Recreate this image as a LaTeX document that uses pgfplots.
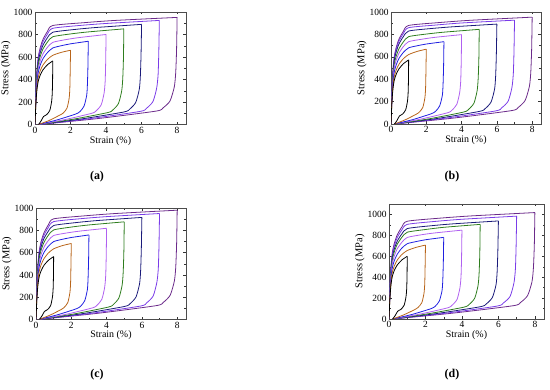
\documentclass[border=0pt]{standalone}
\usepackage{fontspec}
\setmainfont{Liberation Serif}
\usepackage{pgfplots}
\pgfplotsset{compat=1.18}
\definecolor{c1}{HTML}{000000}
\definecolor{c2}{HTML}{B8651B}
\definecolor{c3}{HTML}{2020E0}
\definecolor{c4}{HTML}{B060F0}
\definecolor{c5}{HTML}{2E7D1E}
\definecolor{c6}{HTML}{1A1A7A}
\definecolor{c7}{HTML}{7A3CE8}
\definecolor{c8}{HTML}{6B2A8A}
\pgfplotsset{
  panel/.style={
    scale only axis,
    xmin=0, xmax=8.5, ymin=0,
    xtick={0,2,4,6,8}, minor x tick num=1,
    minor y tick num=1,
    tick align=inside,
    major tick length=2.5bp, minor tick length=1.5bp,
    tick style={black!80, line width=0.4pt},
    axis line style={black!70, line width=0.5pt},
    xlabel={Strain (\%)}, ylabel={Stress (MPa)},
    label style={font=\fontsize{10}{12}\selectfont},
    ylabel style={font=\fontsize{10.5}{12}\selectfont},
    tick label style={font=\fontsize{9.5}{11}\selectfont},
    /pgf/number format/assume math mode=true,
    /pgf/number format/1000 sep={},
    xlabel style={yshift=4bp},
    ylabel style={yshift=-4bp},
    every axis plot/.append style={line width=0.8pt, smooth, tension=0.4, mark=none},
    xticklabel style={yshift=1bp},
    yticklabel style={xshift=1bp},
  }
}
\begin{document}
\begin{tikzpicture}
\path[use as bounding box] (0bp,0bp) rectangle (550bp,390bp);
% ---------------- (a)
\begin{axis}[panel, at={(35bp,265.5bp)}, anchor=south west, width=151bp, height=112.5bp, ymax=1000, ytick={0,200,...,1000}]
\addplot[c8] coordinates {(0,0)(0.05,290)(0.1,458)(0.15,554)(0.2,616)(0.3,686)(0.45,757)(0.7,827)(1,880)(2.75,905)(4.5,925)(8,952)};
\addplot[c8] coordinates {(8,952)(7.97,666)(7.92,457)(7.84,333)(7.6,209)(7.21,148)(6.81,119)(3.5,52)(0.2,0)};
\addplot[c7] coordinates {(0,0)(0.05,282)(0.1,445)(0.15,539)(0.2,599)(0.3,667)(0.45,735)(0.7,804)(1,855)(2.5,880)(4,898)(7,925)};
\addplot[c7] coordinates {(7,925)(6.97,648)(6.93,444)(6.85,324)(6.64,204)(6.27,143)(5.91,116)(3.05,51)(0.2,0)};
\addplot[c6] coordinates {(0,0)(0.05,271)(0.1,426)(0.15,517)(0.2,574)(0.3,640)(0.45,705)(0.7,771)(1,820)(2.25,845)(3.5,863)(6,890)};
\addplot[c6] coordinates {(6,890)(5.97,623)(5.93,427)(5.87,312)(5.67,196)(5.34,138)(5,111)(2.6,49)(0.2,0)};
\addplot[c5] coordinates {(0,0)(0.05,257)(0.1,406)(0.15,491)(0.2,546)(0.3,608)(0.45,671)(0.7,733)(1,780)(2,805)(3,823)(5,850)};
\addplot[c5] coordinates {(5,850)(4.98,595)(4.94,408)(4.88,298)(4.7,187)(4.4,132)(4.1,106)(2.15,47)(0.2,0)};
\addplot[c4] coordinates {(0,0)(0.05,241)(0.1,380)(0.15,460)(0.2,511)(0.3,569)(0.45,628)(0.7,686)(1,730)(1.75,755)(2.5,773)(4,800)};
\addplot[c4] coordinates {(4,800)(3.98,560)(3.95,384)(3.89,280)(3.73,176)(3.46,124)(3.2,100)(1.7,44)(0.2,0)};
\addplot[c3] coordinates {(0,0)(0.05,224)(0.1,354)(0.15,428)(0.2,476)(0.3,530)(0.45,585)(0.7,639)(1,680)(1.5,701)(2,717)(3,740)};
\addplot[c3] coordinates {(3,740)(2.98,518)(2.95,355)(2.91,259)(2.76,163)(2.53,115)(2.29,93)(1.25,41)(0.2,0)};
\addplot[c2] coordinates {(0,0)(0.05,203)(0.1,320)(0.15,387)(0.2,431)(0.3,480)(0.45,529)(0.7,578)(1,615)(1.5,642)(2,660)};
\addplot[c2] coordinates {(2,660)(1.98,462)(1.96,317)(1.92,231)(1.8,145)(1.59,102)(1.39,83)(0.8,36)(0.2,0)};
\addplot[c1] coordinates {(0,0)(0.05,186)(0.1,294)(0.15,356)(0.2,396)(0.3,441)(0.45,486)(0.7,531)(1,565)};
\addplot[c1] coordinates {(1,565)(0.99,396)(0.97,271)(0.93,198)(0.83,124)(0.66,88)(0.48,71)(0.34,31)(0.2,0)};
\end{axis}
% ---------------- (b)
\begin{axis}[panel, at={(391bp,266bp)}, anchor=south west, width=150bp, height=112bp, ymax=1000, ytick={0,200,...,1000}]
\addplot[c8] coordinates {(0,0)(0.05,290)(0.1,458)(0.15,554)(0.2,616)(0.3,686)(0.45,757)(0.7,827)(1,880)(2.75,906)(4.5,926)(8,954)};
\addplot[c8] coordinates {(8,954)(7.97,668)(7.92,458)(7.84,334)(7.6,210)(7.21,148)(6.81,119)(3.5,52)(0.2,0)};
\addplot[c7] coordinates {(0,0)(0.05,284)(0.1,447)(0.15,542)(0.2,602)(0.3,671)(0.45,740)(0.7,808)(1,860)(2.5,883)(4,902)(7,927)};
\addplot[c7] coordinates {(7,927)(6.97,649)(6.93,445)(6.85,324)(6.64,204)(6.27,144)(5.91,116)(3.05,51)(0.2,0)};
\addplot[c6] coordinates {(0,0)(0.05,274)(0.1,432)(0.15,523)(0.2,581)(0.3,647)(0.45,714)(0.7,780)(1,830)(2.25,852)(3.5,868)(6,892)};
\addplot[c6] coordinates {(6,892)(5.97,624)(5.93,428)(5.87,312)(5.67,196)(5.34,138)(5,112)(2.6,49)(0.2,0)};
\addplot[c5] coordinates {(0,0)(0.05,257)(0.1,406)(0.15,491)(0.2,546)(0.3,608)(0.45,671)(0.7,733)(1,780)(2,803)(3,820)(5,845)};
\addplot[c5] coordinates {(5,845)(4.98,592)(4.94,406)(4.88,296)(4.7,186)(4.4,131)(4.1,106)(2.15,46)(0.2,0)};
\addplot[c4] coordinates {(0,0)(0.05,243)(0.1,382)(0.15,463)(0.2,515)(0.3,573)(0.45,632)(0.7,691)(1,735)(1.75,757)(2.5,774)(4,798)};
\addplot[c4] coordinates {(4,798)(3.98,559)(3.95,383)(3.89,279)(3.73,176)(3.46,124)(3.2,100)(1.7,44)(0.2,0)};
\addplot[c3] coordinates {(0,0)(0.05,224)(0.1,354)(0.15,428)(0.2,476)(0.3,530)(0.45,585)(0.7,639)(1,680)(1.5,699)(2,714)(3,735)};
\addplot[c3] coordinates {(3,735)(2.98,515)(2.95,353)(2.91,257)(2.76,162)(2.53,114)(2.29,92)(1.25,40)(0.2,0)};
\addplot[c2] coordinates {(0,0)(0.05,205)(0.1,322)(0.15,391)(0.2,434)(0.3,484)(0.45,533)(0.7,583)(1,620)(1.5,649)(2,668)};
\addplot[c2] coordinates {(2,668)(1.98,468)(1.96,321)(1.92,234)(1.8,147)(1.59,104)(1.39,84)(0.8,37)(0.2,0)};
\addplot[c1] coordinates {(0,0)(0.05,189)(0.1,297)(0.15,360)(0.2,400)(0.3,446)(0.45,492)(0.7,538)(1,572)};
\addplot[c1] coordinates {(1,572)(0.99,400)(0.97,275)(0.93,200)(0.83,126)(0.66,89)(0.48,72)(0.34,31)(0.2,0)};
\end{axis}
% ---------------- (c)
\begin{axis}[panel, at={(36bp,70.7bp)}, anchor=south west, width=150bp, height=111bp, ymax=1000, ytick={0,200,...,1000}]
\addplot[c8] coordinates {(0,0)(0.05,299)(0.1,471)(0.15,570)(0.2,634)(0.3,706)(0.45,778)(0.7,851)(1,905)(2.75,932)(4.5,953)(8,983)};
\addplot[c8] coordinates {(8,983)(7.97,688)(7.92,472)(7.84,344)(7.6,216)(7.21,152)(6.81,123)(3.5,54)(0.2,0)};
\addplot[c7] coordinates {(0,0)(0.05,290)(0.1,458)(0.15,554)(0.2,616)(0.3,686)(0.45,757)(0.7,827)(1,880)(2.5,906)(4,925)(7,953)};
\addplot[c7] coordinates {(7,953)(6.97,667)(6.93,457)(6.85,334)(6.64,210)(6.27,148)(5.91,119)(3.05,52)(0.2,0)};
\addplot[c6] coordinates {(0,0)(0.05,279)(0.1,439)(0.15,532)(0.2,592)(0.3,659)(0.45,727)(0.7,794)(1,845)(2.25,871)(3.5,890)(6,918)};
\addplot[c6] coordinates {(6,918)(5.97,643)(5.93,441)(5.87,321)(5.67,202)(5.34,142)(5,115)(2.6,50)(0.2,0)};
\addplot[c5] coordinates {(0,0)(0.05,266)(0.1,419)(0.15,507)(0.2,564)(0.3,628)(0.45,692)(0.7,757)(1,805)(2,831)(3,850)(5,878)};
\addplot[c5] coordinates {(5,878)(4.98,615)(4.94,421)(4.88,307)(4.7,193)(4.4,136)(4.1,110)(2.15,48)(0.2,0)};
\addplot[c4] coordinates {(0,0)(0.05,249)(0.1,393)(0.15,476)(0.2,529)(0.3,589)(0.45,649)(0.7,710)(1,755)(1.75,778)(2.5,795)(4,820)};
\addplot[c4] coordinates {(4,820)(3.98,574)(3.95,394)(3.89,287)(3.73,180)(3.46,127)(3.2,103)(1.7,45)(0.2,0)};
\addplot[c3] coordinates {(0,0)(0.05,231)(0.1,364)(0.15,441)(0.2,490)(0.3,546)(0.45,602)(0.7,658)(1,700)(1.5,721)(2,737)(3,760)};
\addplot[c3] coordinates {(3,760)(2.98,532)(2.95,365)(2.91,266)(2.76,167)(2.53,118)(2.29,95)(1.25,42)(0.2,0)};
\addplot[c2] coordinates {(0,0)(0.05,210)(0.1,330)(0.15,400)(0.2,445)(0.3,495)(0.45,546)(0.7,597)(1,635)(1.5,664)(2,683)};
\addplot[c2] coordinates {(2,683)(1.98,478)(1.96,328)(1.92,239)(1.8,150)(1.59,106)(1.39,85)(0.8,38)(0.2,0)};
\addplot[c1] coordinates {(0,0)(0.05,186)(0.1,294)(0.15,356)(0.2,396)(0.3,441)(0.45,486)(0.7,531)(1,565)};
\addplot[c1] coordinates {(1,565)(0.99,396)(0.97,271)(0.93,198)(0.83,124)(0.66,88)(0.48,71)(0.34,31)(0.2,0)};
\end{axis}
% ---------------- (d)
\begin{axis}[panel, at={(389bp,71bp)}, anchor=south west, width=155bp, height=115bp, ymax=1100, ytick={0,200,...,1000}]
\addplot[c8] coordinates {(0,0)(0.05,309)(0.1,486)(0.15,589)(0.2,655)(0.3,729)(0.45,804)(0.7,879)(1,935)(2.75,964)(4.5,986)(8,1018)};
\addplot[c8] coordinates {(8,1018)(7.97,713)(7.92,489)(7.84,356)(7.6,224)(7.21,158)(6.81,127)(3.5,56)(0.2,0)};
\addplot[c7] coordinates {(0,0)(0.05,299)(0.1,471)(0.15,570)(0.2,634)(0.3,706)(0.45,778)(0.7,851)(1,905)(2.5,933)(4,954)(7,984)};
\addplot[c7] coordinates {(7,984)(6.97,689)(6.93,472)(6.85,344)(6.64,216)(6.27,153)(5.91,123)(3.05,54)(0.2,0)};
\addplot[c6] coordinates {(0,0)(0.05,285)(0.1,450)(0.15,545)(0.2,606)(0.3,675)(0.45,744)(0.7,813)(1,865)(2.25,891)(3.5,910)(6,938)};
\addplot[c6] coordinates {(6,938)(5.97,657)(5.93,450)(5.87,328)(5.67,206)(5.34,145)(5,117)(2.6,52)(0.2,0)};
\addplot[c5] coordinates {(0,0)(0.05,274)(0.1,432)(0.15,523)(0.2,581)(0.3,647)(0.45,714)(0.7,780)(1,830)(2,856)(3,877)(5,905)};
\addplot[c5] coordinates {(5,905)(4.98,634)(4.94,434)(4.88,317)(4.7,199)(4.4,140)(4.1,113)(2.15,50)(0.2,0)};
\addplot[c4] coordinates {(0,0)(0.05,257)(0.1,406)(0.15,491)(0.2,546)(0.3,608)(0.45,671)(0.7,733)(1,780)(1.75,805)(2.5,823)(4,850)};
\addplot[c4] coordinates {(4,850)(3.98,595)(3.95,408)(3.89,298)(3.73,187)(3.46,132)(3.2,106)(1.7,47)(0.2,0)};
\addplot[c3] coordinates {(0,0)(0.05,238)(0.1,374)(0.15,454)(0.2,504)(0.3,562)(0.45,619)(0.7,677)(1,720)(1.5,741)(2,758)(3,781)};
\addplot[c3] coordinates {(3,781)(2.98,547)(2.95,375)(2.91,273)(2.76,172)(2.53,121)(2.29,98)(1.25,43)(0.2,0)};
\addplot[c2] coordinates {(0,0)(0.05,216)(0.1,341)(0.15,413)(0.2,459)(0.3,511)(0.45,563)(0.7,616)(1,655)(1.5,686)(2,707)};
\addplot[c2] coordinates {(2,707)(1.98,495)(1.96,339)(1.92,247)(1.8,156)(1.59,110)(1.39,88)(0.8,39)(0.2,0)};
\addplot[c1] coordinates {(0,0)(0.05,198)(0.1,312)(0.15,378)(0.2,420)(0.3,468)(0.45,516)(0.7,564)(1,600)};
\addplot[c1] coordinates {(1,600)(0.99,420)(0.97,288)(0.93,210)(0.83,132)(0.66,93)(0.48,75)(0.34,33)(0.2,0)};
\end{axis}
% panel labels
\node[font=\bfseries\fontsize{12}{14}\selectfont] at (97bp,213bp) {(a)};
\node[font=\bfseries\fontsize{12}{14}\selectfont] at (452bp,213bp) {(b)};
\node[font=\bfseries\fontsize{12}{14}\selectfont] at (97bp,15bp) {(c)};
\node[font=\bfseries\fontsize{12}{14}\selectfont] at (452bp,15bp) {(d)};
\end{tikzpicture}
\end{document}
